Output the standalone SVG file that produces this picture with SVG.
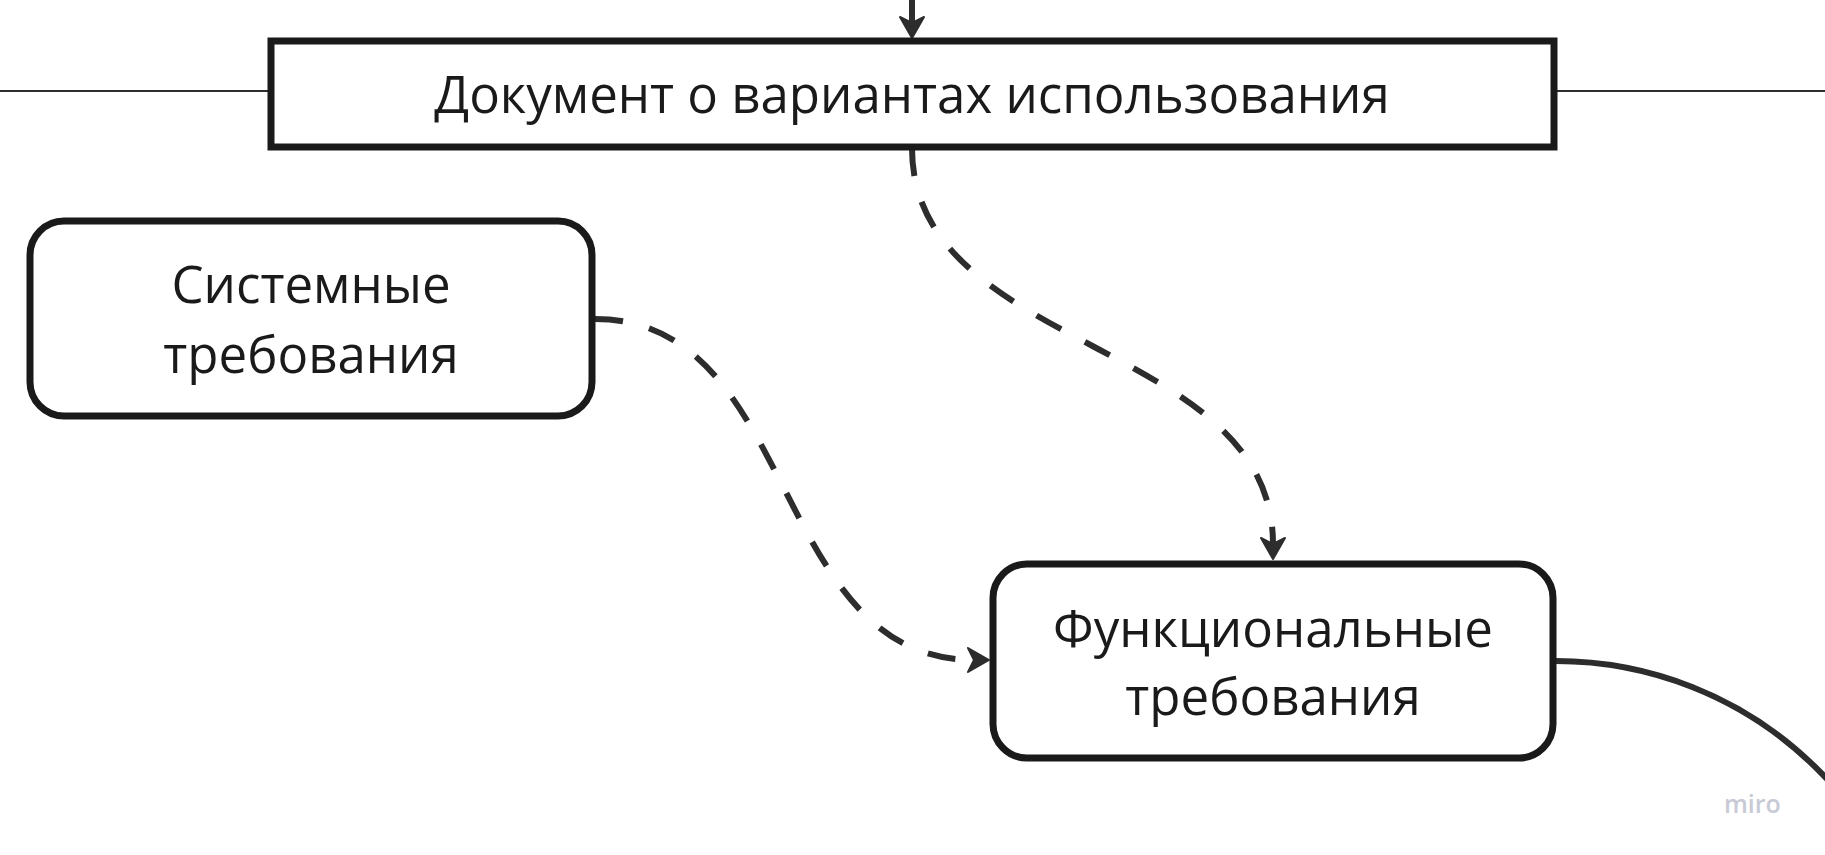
<svg xmlns="http://www.w3.org/2000/svg" width="1825" height="855" viewBox="0 0 1825 855">
  <style>
    .box { fill: #ffffff; stroke: #1a1a1a; stroke-width: 7; }
    .lbl { font-family: "Open Sans", "Noto Sans", "Liberation Sans", sans-serif; font-size: 51px; fill: #1a1a1a; text-anchor: middle; }
    .conn { fill: none; stroke: #2d2d2d; stroke-width: 6; }
    .dash { stroke-dasharray: 28 27; }
    .thin { fill: none; stroke: #2d2d2d; stroke-width: 2; }
    .wm { font-family: "Open Sans", "Noto Sans", sans-serif; font-size: 25px; font-weight: 600; fill: #c8cad6; }
  </style>
  <defs>
    <marker id="arr" markerUnits="userSpaceOnUse" markerWidth="30" markerHeight="30" refX="6" refY="12" orient="auto" overflow="visible">
      <path d="M0 0 L21 12 L0 24 L6 12 Z" fill="#2d2d2d" stroke="#2d2d2d" stroke-width="2" stroke-linejoin="round"/>
    </marker>
  </defs>

  <rect width="1825" height="855" fill="#ffffff"/>

  <g id="connectors">
    <line class="thin" x1="0" y1="91" x2="268" y2="91"/>
    <line class="thin" x1="1556" y1="91" x2="1825" y2="91"/>
    <line class="conn" x1="912" y1="0" x2="912" y2="23" marker-end="url(#arr)"/>
    <path class="conn dash" d="M595 319 C800 319 769 660 974 660" marker-end="url(#arr)"/>
    <path class="conn dash" d="M912 148 C912 353 1273 339 1273 544" marker-end="url(#arr)"/>
    <path class="conn" d="M1556 661 A370 370 0 0 1 1926 1031"/>
  </g>

  <g id="node-doc">
    <rect class="box" x="271" y="41" width="1283" height="106"/>
    <text class="lbl" x="912" y="113">Документ о вариантах использования</text>
  </g>

  <g id="node-system">
    <rect class="box" x="30" y="221" width="562" height="195" rx="34" ry="34"/>
    <text class="lbl" x="311" y="303">Системные</text>
    <text class="lbl" x="311" y="373">требования</text>
  </g>

  <g id="node-functional">
    <rect class="box" x="993" y="564" width="560" height="194" rx="34" ry="34"/>
    <text class="lbl" x="1273" y="647">Функциональные</text>
    <text class="lbl" x="1273" y="715">требования</text>
  </g>

  <text class="wm" x="1724" y="813">miro</text>
</svg>
